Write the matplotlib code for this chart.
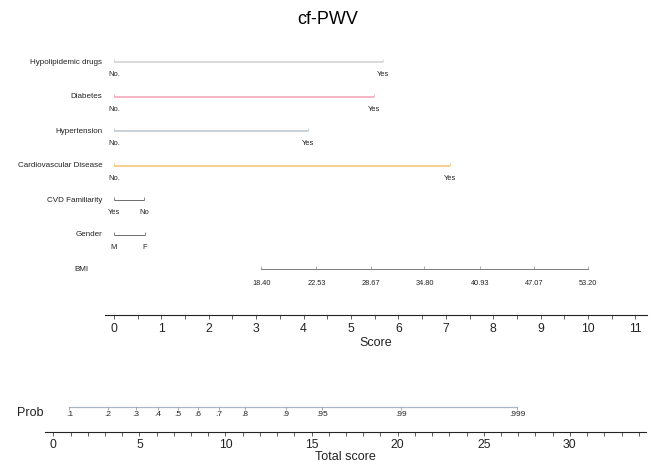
import matplotlib
matplotlib.use("Agg")
import matplotlib.pyplot as plt
from matplotlib.ticker import MultipleLocator

plt.rcParams['font.family'] = ['Liberation Sans', 'DejaVu Sans']

# ---------------- data ----------------
title = "cf-PWV"
variables = ["Hypolipidemic drugs", "Diabetes", "Hypertension", "Cardiovascular Disease",
             "CVD Familiarity", "Gender", "BMI"]
level_labels = [["No.", "Yes"], ["No.", "Yes"], ["No.", "Yes"], ["No.", "Yes"],
                ["Yes", "No"], ["M", "F"]]
level_points = [[0, 5.68], [0, 5.48], [0, 4.10], [0, 7.08], [0, 0.63], [0, 0.65]]
line_colors = ["#cfcfcf", "#f3a0b4", "#bcc5cc", "#f1c470", "#555555", "#555555"]
bmi_labels = ["18.40", "22.53", "28.67", "34.80", "40.93", "47.07", "53.20"]
bmi_points = [3.11, 4.27, 5.42, 6.55, 7.72, 8.86, 10.0]
score_ticks = list(range(0, 12))
total_ticks = [0, 5, 10, 15, 20, 25, 30]
prob_labels = [".1", ".2", ".3", ".4", ".5", ".6", ".7", ".8", ".9", ".95", ".99", ".999"]
prob_points = [0.93, 3.18, 4.80, 6.08, 7.24, 8.40, 9.62, 11.13, 13.51, 15.60, 20.19, 26.93]

# ---------------- layout helpers ----------------
W, H = 656, 465
def fx(px): return px / W
def fy(py): return 1 - py / H

fig = plt.figure(figsize=(W / 100, H / 100), dpi=100)
fig.text(0.5, fy(20), title, ha="center", va="center", fontsize=13)

score_xlim = (-0.2, 11.25)
sL, sR = 104.5, 647.3
# rows axes (row r at pixel 62.3 + 34.5 r)
ax = fig.add_axes([fx(sL), fy(338), (sR - sL) / W, (338 - 38) / H])
ax.set_xlim(*score_xlim)
ax.set_ylim(7.99, -0.704)
ax.axis("off")

lab_x = -0.25
for i, name in enumerate(variables):
    xoff = -0.28 if name == "BMI" else 0.0
    ax.text(lab_x + xoff, i, name, ha="right", va="center", fontsize=5.8, color="#222222", clip_on=False)

for i, (pts, labs, col) in enumerate(zip(level_points, level_labels, line_colors)):
    lw = 1.1 if i < 4 else 0.6
    ax.plot(pts, [i, i], color=col, lw=lw, solid_capstyle="butt")
    ax.plot(pts, [i, i], ls="none", marker=2, ms=2.5, mew=0.5, color=col)
    for p, l in zip(pts, labs):
        ax.text(p, i + 0.36, l, ha="center", va="center", fontsize=5.4, color="#222222")

bi = len(variables) - 1
ax.plot([bmi_points[0], bmi_points[-1]], [bi, bi], color="#666666", lw=0.6)
ax.plot(bmi_points, [bi] * len(bmi_points), ls="none", marker=2, ms=2.5, mew=0.5, color="#888888")
for p, l in zip(bmi_points, bmi_labels):
    ax.text(p, bi + 0.41, l, ha="center", va="center", fontsize=5.3, color="#222222")

# score axis
axs = fig.add_axes([fx(sL), fy(315), (sR - sL) / W, 1 / H])
axs.set_xlim(*score_xlim)
for s in ["top", "left", "right"]:
    axs.spines[s].set_visible(False)
axs.spines["bottom"].set_linewidth(0.8)
axs.spines["bottom"].set_color("#222222")
axs.set_yticks([])
axs.set_xticks(score_ticks)
axs.xaxis.set_minor_locator(MultipleLocator(0.5))
axs.tick_params(axis="x", which="both", direction="out", length=3, width=0.6,
                colors="#444444", labelsize=8.8, pad=3, labelcolor="#222222")
axs.set_xlabel("Score", fontsize=9, labelpad=1.5, color="#222222")

# ---------------- bottom part ----------------
total_xlim = (-0.5, 34.4)
tL = 53.3 - 0.5 * 17.22
tR = 53.3 + 34.4 * 17.22
axp = fig.add_axes([fx(tL), fy(425), (tR - tL) / W, (425 - 398) / H])
axp.set_xlim(*total_xlim)
axp.set_ylim(1.0, -0.5)
axp.axis("off")
# prob row at y=0 (pixel 410)
axp.plot([prob_points[0], prob_points[-1]], [0, 0], color="#a9b7c6", lw=0.9)
axp.plot(prob_points, [0] * len(prob_points), ls="none", marker=3, ms=2.5, mew=0.5, color="#888888")
for p, l in zip(prob_points, prob_labels):
    axp.text(p, 0.42, l, ha="center", va="center", fontsize=6, color="#222222")
fig.text(fx(17), fy(413), "Prob", ha="left", va="center", fontsize=9, color="#222222")

axt = fig.add_axes([fx(tL), fy(431.7), (tR - tL) / W, 1 / H])
axt.set_xlim(*total_xlim)
for s in ["top", "left", "right"]:
    axt.spines[s].set_visible(False)
axt.spines["bottom"].set_linewidth(0.8)
axt.spines["bottom"].set_color("#222222")
axt.set_yticks([])
axt.set_xticks(total_ticks)
axt.xaxis.set_minor_locator(MultipleLocator(1))
axt.tick_params(axis="x", which="both", direction="out", length=3, width=0.6,
                colors="#444444", labelsize=8.8, pad=2, labelcolor="#222222")
axt.set_xlabel("Total score", fontsize=9, labelpad=0.5, color="#222222")

fig.savefig("out.png", dpi=100)
